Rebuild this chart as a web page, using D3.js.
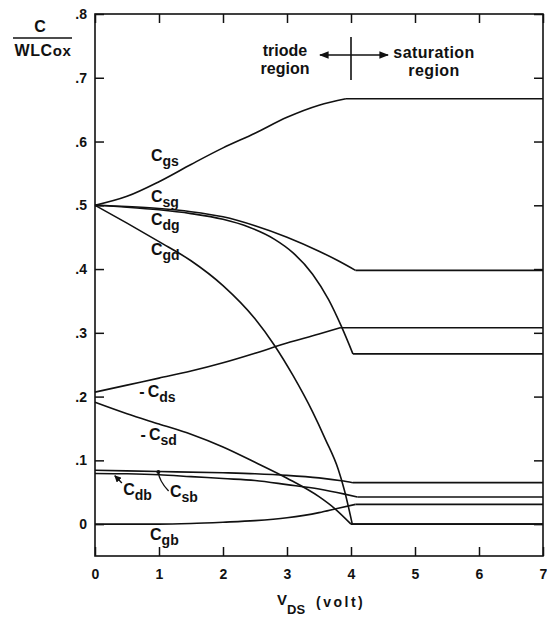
<!DOCTYPE html>
<html><head><meta charset="utf-8">
<script src="https://cdn.jsdelivr.net/npm/d3@7"></script>
<style>
body{margin:0;background:#fff}
svg{display:block}
text{font-family:"Liberation Sans",Arial,Helvetica,sans-serif;font-weight:bold;fill:#111}
</style>
</head><body>
<svg id="c" width="547" height="624"></svg>
<script>
// ---- data ----
const xTicks = [0, 1, 2, 3, 4, 5, 6, 7];
const yTicks = [0, 0.1, 0.2, 0.3, 0.4, 0.5, 0.6, 0.7, 0.8];
const yTickLabels = ["0", ".1", ".2", ".3", ".4", ".5", ".6", ".7", ".8"];

const cgsV = [0, 0.5, 1, 1.5, 2, 2.5, 3, 3.5, 3.92, 7];
const cgs  = [0.5, 0.514, 0.537, 0.564, 0.590, 0.613, 0.638, 0.657, 0.667, 0.667];

const csgV = [0, 0.5, 1, 1.5, 2, 2.5, 3, 3.5, 3.8, 4.07, 7];
const csg  = [0.5, 0.498, 0.495, 0.490, 0.482, 0.468, 0.450, 0.428, 0.413, 0.398, 0.398];

const cdgV = [0, 0.5, 1, 1.5, 2, 2.4, 2.8, 3.1, 3.4, 3.65, 3.85, 4.03, 7];
const cdg  = [0.5, 0.497, 0.493, 0.487, 0.478, 0.466, 0.447, 0.425, 0.392, 0.352, 0.31, 0.267, 0.267];

const cgdV = [0, 0.5, 1, 1.5, 2, 2.5, 2.8, 3.1, 3.4, 3.6, 3.8, 3.9, 4.02, 7];
const cgd  = [0.5, 0.472, 0.443, 0.413, 0.374, 0.322, 0.281, 0.232, 0.176, 0.133, 0.086, 0.052, 0, 0];

const mcdsV = [0, 0.5, 1, 1.5, 2, 2.5, 3, 3.5, 3.83, 7];
const mcds  = [0.207, 0.218, 0.229, 0.240, 0.253, 0.268, 0.284, 0.298, 0.308, 0.308];

const mcsdV = [0, 0.5, 1, 1.5, 2, 2.5, 3, 3.5, 3.75, 4.0, 7];
const mcsd  = [0.191, 0.173, 0.157, 0.141, 0.121, 0.097, 0.072, 0.043, 0.024, 0, 0];

const csbV = [0, 1, 2, 2.5, 3, 3.5, 3.85, 4.03, 7];
const csb  = [0.0845, 0.0825, 0.0805, 0.079, 0.0765, 0.0725, 0.068, 0.065, 0.065];

const cdbV = [0, 0.5, 1, 1.5, 2, 2.5, 3, 3.5, 3.9, 4.1, 7];
const cdb  = [0.0795, 0.079, 0.0775, 0.0745, 0.0715, 0.0685, 0.062, 0.055, 0.047, 0.0425, 0.0425];

const cgbV = [0, 1, 1.5, 2, 2.5, 3, 3.5, 3.8, 4.07, 7];
const cgb  = [0, 0, 0.001, 0.003, 0.0055, 0.010, 0.018, 0.025, 0.031, 0.031];

const seriesList = [
  [cgsV, cgs], [csgV, csg], [cdgV, cdg], [cgdV, cgd], [mcdsV, mcds],
  [mcsdV, mcsd], [csbV, csb], [cdbV, cdb], [cgbV, cgb]
];

// label text: [prefix, main, subscript]
const labelTexts = [["", "C", "gs"], ["", "C", "sg"], ["", "C", "dg"], ["", "C", "gd"],
  ["-", "C", "ds"], ["-", "C", "sd"], ["", "C", "db"], ["", "C", "sb"], ["", "C", "gb"]];

// ---- layout ----
const svg = d3.select("#c");
const x = d3.scaleLinear().domain([0, 7]).range([95, 543]);
const y = d3.scaleLinear().domain([-0.05, 0.8]).range([556, 14]);

// label anchor points in data units
const labelAt = [[0.875, 0.569], [0.875, 0.505], [0.875, 0.469], [0.875, 0.422],
  [0.69, 0.199], [0.71, 0.132], [0.44, 0.0455], [1.17, 0.0424], [0.86, -0.025]];

// frame
svg.append("rect").attr("x", x(0)).attr("y", y(0.8)).attr("width", x(7) - x(0))
  .attr("height", y(-0.05) - y(0.8)).attr("fill", "none").attr("stroke", "#111").attr("stroke-width", 1.6);

function styleAxis(g, fs) {
  g.select(".domain").remove();
  g.selectAll(".tick line").attr("stroke", "#111").attr("stroke-width", 1.5);
  g.selectAll("text").attr("font-size", fs).attr("fill", "#111")
    .style("font-family", '"Liberation Sans",Arial,sans-serif').style("font-weight", "bold");
}
const fmt = d => yTickLabels[yTicks.indexOf(d)];
svg.append("g").attr("transform", `translate(${x(0)},0)`)
  .call(d3.axisLeft(y).tickValues(yTicks).tickFormat(fmt).tickSize(-9).tickPadding(8))
  .call(g => styleAxis(g, 14));
svg.append("g").attr("transform", `translate(${x(7)},0)`)
  .call(d3.axisRight(y).tickValues(yTicks).tickFormat("").tickSize(-9))
  .call(g => styleAxis(g, 14));
svg.append("g").attr("transform", `translate(0,${y(-0.05)})`)
  .call(d3.axisBottom(x).tickValues(xTicks).tickFormat(d3.format("d")).tickSize(-9).tickPadding(13))
  .call(g => styleAxis(g, 14));
svg.append("g").attr("transform", `translate(0,${y(0.8)})`)
  .call(d3.axisTop(x).tickValues(xTicks).tickFormat("").tickSize(-9))
  .call(g => styleAxis(g, 14));

// curves: smooth triode part + straight saturation part
const smooth = d3.line().x(d => x(d[0])).y(d => y(d[1])).curve(d3.curveMonotoneX);
const straight = d3.line().x(d => x(d[0])).y(d => y(d[1]));
const gLines = svg.append("g").attr("fill", "none").attr("stroke", "#111").attr("stroke-width", 1.6);
seriesList.forEach(([vs, cs]) => {
  const pts = vs.map((v, i) => [v, cs[i]]);
  gLines.append("path").attr("d", smooth(pts.slice(0, -1)));
  gLines.append("path").attr("d", straight(pts.slice(-2)));
});

// labels
labelTexts.forEach((t, i) => {
  const [lx, ly] = labelAt[i];
  const tx = svg.append("text").attr("x", x(lx)).attr("y", y(ly)).attr("font-size", 16);
  if (t[0]) tx.append("tspan").text(t[0] + "\u2009");
  tx.append("tspan").text(t[1]);
  tx.append("tspan").attr("dy", 5).attr("font-size", 14).text(t[2]);
});

// leader arrow for Cdb and leader line for Csb
const defs = svg.append("defs");
defs.append("marker").attr("id", "ah").attr("viewBox", "0 0 10 10").attr("refX", 9).attr("refY", 5)
  .attr("markerWidth", 5).attr("markerHeight", 5).attr("orient", "auto")
  .append("path").attr("d", "M0,0L10,5L0,10z").attr("fill", "#111");
svg.append("line").attr("x1", x(0.42)).attr("y1", y(0.0645)).attr("x2", x(0.31)).attr("y2", y(0.076))
  .attr("stroke", "#111").attr("stroke-width", 1.4).attr("marker-end", "url(#ah)");
svg.append("path")
  .attr("d", `M${x(0.99)},${y(0.0818)} Q${x(1.0)},${y(0.068)} ${x(1.15)},${y(0.052)}`)
  .attr("fill", "none").attr("stroke", "#111").attr("stroke-width", 1.3);
svg.append("circle").attr("cx", x(0.99)).attr("cy", y(0.0818)).attr("r", 2).attr("fill", "#111");

// region annotation
svg.append("line").attr("x1", x(4)).attr("x2", x(4)).attr("y1", 37).attr("y2", 80)
  .attr("stroke", "#111").attr("stroke-width", 1.6);
defs.append("marker").attr("id", "ah2").attr("viewBox", "0 0 10 10").attr("refX", 9).attr("refY", 5)
  .attr("markerWidth", 6).attr("markerHeight", 6).attr("orient", "auto-start-reverse")
  .append("path").attr("d", "M0,1L10,5L0,9z").attr("fill", "#111");
svg.append("line").attr("x1", 320).attr("x2", 388).attr("y1", 55).attr("y2", 55)
  .attr("stroke", "#111").attr("stroke-width", 1.6)
  .attr("marker-start", "url(#ah2)").attr("marker-end", "url(#ah2)");
const reg = svg.append("g").attr("font-size", 16);
reg.append("text").attr("x", 285).attr("y", 56).attr("text-anchor", "middle").text("triode");
reg.append("text").attr("x", 285).attr("y", 74).attr("text-anchor", "middle").text("region");
reg.append("text").attr("x", 434).attr("y", 58).attr("text-anchor", "middle").attr("letter-spacing", 0.4).text("saturation");
reg.append("text").attr("x", 434).attr("y", 76).attr("text-anchor", "middle").attr("letter-spacing", 0.4).text("region");

// y axis title
svg.append("text").attr("x", 40).attr("y", 32).attr("text-anchor", "middle").attr("font-size", 16).text("C");
svg.append("line").attr("x1", 13).attr("x2", 72).attr("y1", 38).attr("y2", 38).attr("stroke", "#111").attr("stroke-width", 1.5);
const yt = svg.append("text").attr("x", 43).attr("y", 56).attr("text-anchor", "middle").attr("font-size", 16)
  .attr("letter-spacing", 0.6);
yt.append("tspan").text("WLC");
yt.append("tspan").attr("font-size", 15).text("ox");

// x axis title
const xt = svg.append("text").attr("x", 277).attr("y", 605).attr("font-size", 15);
xt.append("tspan").text("V");
xt.append("tspan").attr("dy", 9).attr("font-size", 13).text("DS");
xt.append("tspan").attr("x", 316).attr("dy", -7).attr("font-size", 14).attr("letter-spacing", 2.5).text("(volt)");
</script>
</body></html>
